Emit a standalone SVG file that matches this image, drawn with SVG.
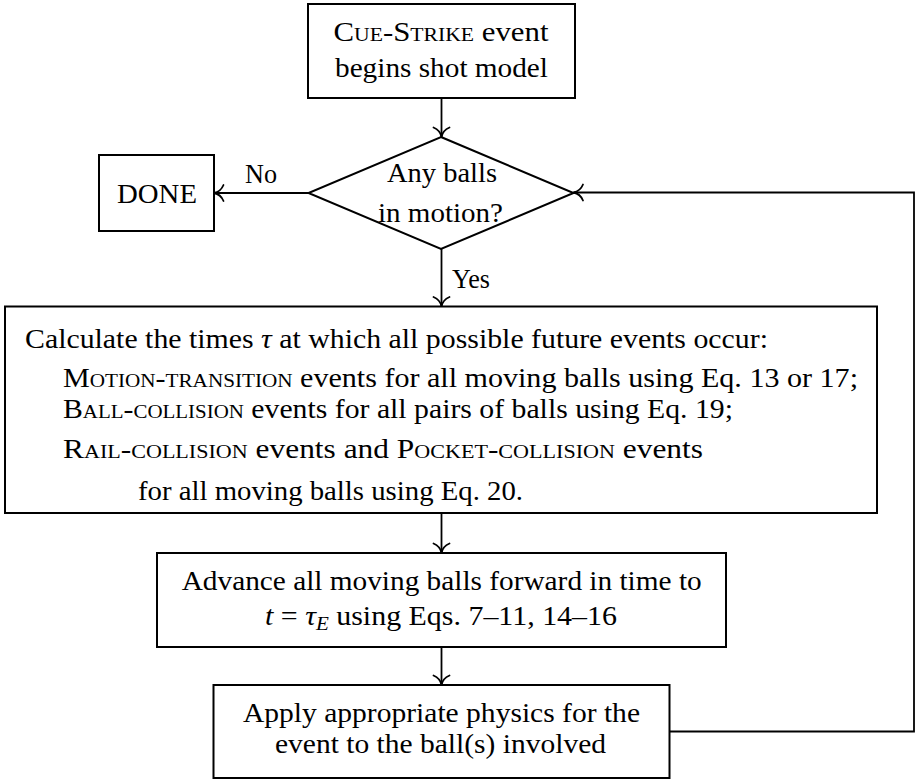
<svg xmlns="http://www.w3.org/2000/svg" width="915" height="780" viewBox="0 0 915 780">
  <style>
    .box { fill: #ffffff; stroke: #000000; stroke-width: 2; }
    .edge { fill: none; stroke: #000000; stroke-width: 1.8; }
    .lbl { font-family: "Liberation Serif", "DejaVu Serif", serif; font-size: 27px; fill: #000000; }
    .mid { text-anchor: middle; }
    .sc { font-variant: small-caps; }
    .it { font-style: italic; }
  </style>
  <defs>
    <!-- open, curved "to"-style arrow tip -->
    <marker id="tip" viewBox="-12 -10 14 20" markerWidth="14" markerHeight="20" refX="0" refY="0" orient="auto" markerUnits="userSpaceOnUse" overflow="visible">
      <path d="M-9.5,-8 C-7.5,-3.2 -3.2,-0.6 0,0 C-3.2,0.6 -7.5,3.2 -9.5,8" fill="none" stroke="#000000" stroke-width="1.8" stroke-linecap="round"/>
    </marker>
  </defs>

  <rect width="915" height="780" fill="#ffffff"/>

  <g id="connectors">
    <path class="edge" d="M441.5,98 V137" marker-end="url(#tip)"/>
    <path class="edge" d="M308.5,193 H214" marker-end="url(#tip)"/>
    <path class="edge" d="M441.5,249 V306.5" marker-end="url(#tip)"/>
    <path class="edge" d="M441.5,513 V553" marker-end="url(#tip)"/>
    <path class="edge" d="M441.5,647 V685" marker-end="url(#tip)"/>
    <path class="edge" d="M669,731.5 H914 V192.5 H573.5" marker-end="url(#tip)"/>
    <text class="lbl" x="245" y="183" textLength="32" lengthAdjust="spacingAndGlyphs">No</text>
    <text class="lbl" x="452" y="288" textLength="38" lengthAdjust="spacingAndGlyphs">Yes</text>
  </g>

  <g id="start">
    <rect class="box" x="308" y="4" width="267" height="94"/>
    <text class="lbl mid" x="441" y="41" textLength="215" lengthAdjust="spacingAndGlyphs"><tspan class="sc">Cue-Strike</tspan> event</text>
    <text class="lbl mid" x="441.5" y="77" textLength="213" lengthAdjust="spacingAndGlyphs">begins shot model</text>
  </g>

  <g id="decision">
    <polygon class="box" points="441,137 573.5,193 441,249 308.5,193"/>
    <text class="lbl mid" x="442" y="182" textLength="110" lengthAdjust="spacingAndGlyphs">Any balls</text>
    <text class="lbl mid" x="440.5" y="222" textLength="125" lengthAdjust="spacingAndGlyphs">in motion?</text>
  </g>

  <g id="done">
    <rect class="box" x="99" y="155" width="115" height="76"/>
    <text class="lbl mid" x="157" y="203" textLength="80" lengthAdjust="spacingAndGlyphs">DONE</text>
  </g>

  <g id="calculate">
    <rect class="box" x="5" y="306.5" width="872" height="206.5"/>
    <text class="lbl" x="25" y="348" textLength="743" lengthAdjust="spacingAndGlyphs">Calculate the times <tspan class="it">τ</tspan> at which all possible future events occur:</text>
    <text class="lbl" x="63" y="387" textLength="795" lengthAdjust="spacingAndGlyphs"><tspan class="sc">Motion-transition</tspan> events for all moving balls using Eq. 13 or 17;</text>
    <text class="lbl" x="63" y="418" textLength="670" lengthAdjust="spacingAndGlyphs"><tspan class="sc">Ball-collision</tspan> events for all pairs of balls using Eq. 19;</text>
    <text class="lbl" x="63" y="458" textLength="640" lengthAdjust="spacingAndGlyphs"><tspan class="sc">Rail-collision</tspan> events and <tspan class="sc">Pocket-collision</tspan> events</text>
    <text class="lbl" x="138" y="500" textLength="385" lengthAdjust="spacingAndGlyphs">for all moving balls using Eq. 20.</text>
  </g>

  <g id="advance">
    <rect class="box" x="157" y="553" width="569" height="94"/>
    <text class="lbl mid" x="441.7" y="590" textLength="520" lengthAdjust="spacingAndGlyphs">Advance all moving balls forward in time to</text>
    <text class="lbl" x="265" y="625" textLength="352" lengthAdjust="spacingAndGlyphs"><tspan class="it">t</tspan> = <tspan class="it">τ</tspan><tspan class="it" font-size="19" dy="5">E</tspan><tspan dy="-5"> using Eqs. 7–11, 14–16</tspan></text>
  </g>

  <g id="apply">
    <rect class="box" x="213.5" y="685" width="456" height="93"/>
    <text class="lbl mid" x="441.5" y="722" textLength="397" lengthAdjust="spacingAndGlyphs">Apply appropriate physics for the</text>
    <text class="lbl mid" x="440.5" y="753" textLength="331" lengthAdjust="spacingAndGlyphs">event to the ball(s) involved</text>
  </g>
</svg>
